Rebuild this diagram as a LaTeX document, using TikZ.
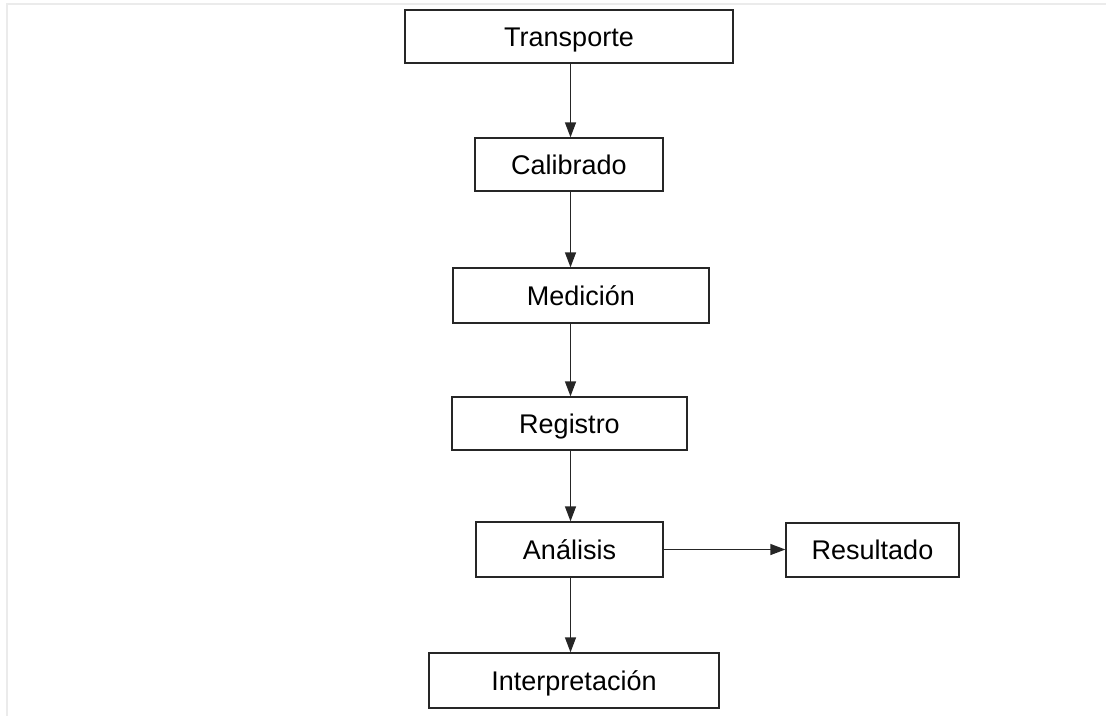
\documentclass[tikz,border=0pt]{standalone}
\usepackage{fontspec}
\setmainfont{Liberation Sans}
\usetikzlibrary{arrows.meta}
\begin{document}
\begin{tikzpicture}[x=1pt,y=-1pt,
  stepbox/.style={draw=black!85, line width=1.3pt, fill=white, inner sep=0pt,
    text height=19pt, text depth=0pt,
    font=\fontsize{27}{32}\selectfont, text=black},
  flow/.style={draw=black!85, line width=1.3pt,
    -{Triangle[length=15pt,width=11pt]}},
  frame/.style={draw=black!8, line width=1.2pt}]
  \useasboundingbox (0,0) rectangle (1106,716);
  % faint page frame
  \draw[frame] (7,716) -- (7,4) -- (1106,4);

  \node[stepbox, minimum width=328, minimum height=53] (tr) at (569,36.5) {Transporte};
  \node[stepbox, minimum width=188, minimum height=53] (ca) at (569,164.5) {Calibrado};
  \node[stepbox, minimum width=256, minimum height=55] (me) at (581,295.5) {Medición};
  \node[stepbox, minimum width=235, minimum height=53] (re) at (569.5,423.5) {Registro};
  \node[stepbox, minimum width=187, minimum height=55] (an) at (569.5,549.5) {Análisis};
  \node[stepbox, minimum width=173, minimum height=54] (rs) at (872.5,550) {Resultado};
  \node[stepbox, minimum width=290, minimum height=55] (in) at (574,680.5) {Interpretación};

  % main vertical flow axis
  \coordinate (axis) at (570.5,0);
  \draw[flow] (tr.south -| axis) -- (ca.north -| axis);
  \draw[flow] (ca.south -| axis) -- (me.north -| axis);
  \draw[flow] (me.south -| axis) -- (re.north -| axis);
  \draw[flow] (re.south -| axis) -- (an.north -| axis);
  \draw[flow] (an.south -| axis) -- (in.north -| axis);
  \draw[flow] (an.east) -- (an.east -| rs.west);
\end{tikzpicture}
\end{document}
